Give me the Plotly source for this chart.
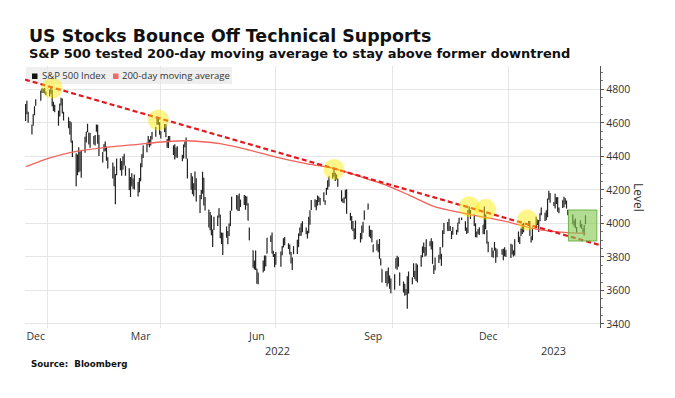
import pandas as pd
import plotly.graph_objects as go

# ---------------- data ----------------
holidays = ['2021-12-24', '2022-01-17', '2022-02-21', '2022-04-15', '2022-05-30', '2022-06-20',
            '2022-07-04', '2022-09-05', '2022-11-24', '2022-12-26', '2023-01-02', '2023-01-16',
            '2023-02-20']
first_day = '2021-12-13'
last_day = '2023-03-03'

opens = [
    4710, 4642, 4637, 4719, 4653, 4587, 4594, 4650, 4703, 4733, 4795, 4789, 4795, 4776,
    4779, 4804, 4788, 4693, 4698, 4655, 4670, 4728, 4734, 4637, 4632, 4588, 4547, 4471, 4357, 4366, 4408, 4381, 4337, 4431,
    4520, 4568, 4535, 4483, 4505, 4480, 4548, 4554, 4507, 4413, 4430, 4455, 4456, 4385, 4332, 4325, 4155, 4299, 4354,
    4363, 4322, 4401, 4343, 4327, 4202, 4224, 4252, 4279, 4202, 4188, 4288, 4345, 4407, 4463, 4469, 4494, 4469, 4523, 4541, 4603, 4625, 4599,
    4540, 4548, 4573, 4495, 4474, 4495, 4462, 4438, 4396, 4449, 4385, 4390, 4472, 4490, 4385, 4255, 4279, 4187, 4223, 4253,
    4130, 4159, 4181, 4271, 4129, 4081, 4035, 3990, 3903, 3964, 4013, 4052, 4052, 3900, 3928, 3920, 3943, 3930, 3985, 4077, 4151,
    4149, 4096, 4138, 4134, 4096, 4148, 4101, 3974, 3838, 3763, 3764, 3729, 3665, 3709, 3734, 3775, 3821, 3913, 3913, 3826, 3785,
    3781, 3792, 3831, 3858, 3889, 3880, 3854, 3779, 3764, 3818, 3883, 3860, 3936, 3955, 4000, 3966, 3953, 3951, 4026, 4088,
    4113, 4105, 4108, 4155, 4116, 4155, 4133, 4171, 4227, 4225, 4270, 4291, 4280, 4274, 4267, 4195, 4134, 4127, 4154, 4198, 4034, 4041, 4000,
    3937, 3994, 3930, 3909, 3959, 4022, 4083, 3986, 3940, 3932, 3831, 3849, 3875, 3871, 3782, 3727, 3682, 3687, 3651, 3687, 3633,
    3610, 3732, 3754, 3772, 3706, 3647, 3595, 3591, 3520, 3690, 3638, 3746, 3696, 3689, 3657, 3762, 3799, 3825, 3834, 3808, 3881,
    3901, 3853, 3733, 3767, 3780, 3817, 3811, 3859, 3963, 3978, 4006, 3976, 3920, 3966, 3956, 3956, 4001, 4023, 4005, 3964, 3957,
    4087, 4040, 4052, 3996, 3934, 3947, 3954, 3939, 4069, 4016, 3958, 3891, 3853, 3810, 3840, 3853, 3815, 3843, 3829, 3805, 3830,
    3853, 3840, 3839, 3823, 3910, 3889, 3932, 3977, 3960, 3999, 4003, 3911, 3909, 3979, 4001, 3982, 4037, 4054, 4050, 4020,
    4070, 4158, 4137, 4119, 4105, 4153, 4145, 4072, 4096, 4127, 4120, 4115, 4078, 4052, 4001, 4018, 3973, 3992, 3977,
    3963, 3938, 3999,
]
highs = [
    4710, 4660, 4712, 4731, 4666, 4589, 4651, 4698, 4740, 4791, 4807, 4804, 4808, 4787,
    4797, 4819, 4798, 4725, 4708, 4674, 4714, 4749, 4745, 4666, 4632, 4611, 4603, 4495, 4418, 4411, 4454, 4429, 4432, 4517,
    4546, 4595, 4542, 4540, 4522, 4528, 4590, 4589, 4527, 4426, 4472, 4489, 4457, 4394, 4363, 4340, 4295, 4385, 4388,
    4372, 4401, 4416, 4343, 4327, 4277, 4299, 4268, 4292, 4247, 4271, 4358, 4412, 4465, 4481, 4522, 4500, 4521, 4546, 4575, 4637, 4627, 4604,
    4549, 4593, 4593, 4504, 4521, 4521, 4464, 4472, 4453, 4460, 4410, 4471, 4489, 4513, 4386, 4299, 4279, 4240, 4309, 4270,
    4169, 4200, 4308, 4271, 4158, 4082, 4068, 4049, 3964, 4039, 4047, 4090, 4052, 3946, 3944, 3982, 3955, 3999, 4075, 4158, 4169,
    4166, 4177, 4143, 4169, 4165, 4160, 4120, 3974, 3838, 3778, 3838, 3729, 3707, 3779, 3809, 3808, 3913, 3928, 3946, 3837, 3818,
    3829, 3832, 3865, 3911, 3919, 3880, 3874, 3829, 3796, 3863, 3902, 3940, 3975, 4000, 4013, 3976, 3956, 4040, 4078, 4140,
    4144, 4140, 4167, 4161, 4151, 4186, 4138, 4211, 4258, 4280, 4302, 4326, 4302, 4292, 4267, 4196, 4149, 4156, 4200, 4203, 4063, 4044, 4015,
    3970, 4018, 3942, 3987, 4010, 4077, 4119, 3986, 3962, 3960, 3873, 3900, 3877, 3907, 3790, 3727, 3715, 3717, 3737, 3687, 3671,
    3697, 3792, 3807, 3798, 3706, 3653, 3640, 3608, 3685, 3713, 3678, 3762, 3718, 3762, 3753, 3810, 3862, 3886, 3859, 3905, 3893,
    3911, 3894, 3750, 3796, 3813, 3859, 3819, 3959, 4002, 4009, 4028, 3984, 3954, 3979, 3962, 4004, 4034, 4035, 4013, 3976, 4080,
    4101, 4080, 4053, 4001, 3951, 3966, 3977, 3991, 4101, 4053, 3959, 3891, 3854, 3839, 3889, 3853, 3845, 3846, 3849, 3858, 3840,
    3879, 3874, 3839, 3906, 3951, 3920, 3970, 3997, 4003, 4015, 4014, 3923, 3973, 4039, 4024, 4020, 4061, 4095, 4063, 4077,
    4148, 4195, 4182, 4127, 4177, 4156, 4157, 4095, 4138, 4159, 4148, 4136, 4082, 4052, 4017, 4029, 3979, 4019, 3997,
    3971, 3990, 4048,
]
lows = [
    4667, 4606, 4611, 4651, 4600, 4531, 4583, 4645, 4703, 4733, 4780, 4778, 4775, 4766,
    4759, 4774, 4699, 4671, 4663, 4582, 4638, 4703, 4655, 4614, 4568, 4530, 4482, 4396, 4222, 4287, 4305, 4309, 4273, 4421,
    4483, 4544, 4470, 4451, 4471, 4465, 4548, 4475, 4402, 4364, 4429, 4430, 4374, 4328, 4268, 4222, 4114, 4287, 4317,
    4285, 4322, 4345, 4284, 4199, 4157, 4224, 4206, 4202, 4161, 4187, 4252, 4335, 4390, 4425, 4469, 4455, 4465, 4501, 4517, 4589, 4588, 4530,
    4507, 4546, 4514, 4452, 4450, 4487, 4408, 4381, 4393, 4392, 4371, 4388, 4455, 4385, 4268, 4201, 4175, 4162, 4200, 4131,
    4062, 4144, 4177, 4107, 4077, 3976, 3959, 3929, 3859, 3961, 3984, 4033, 3912, 3877, 3811, 3914, 3875, 3925, 3985, 4077, 4083,
    4074, 4074, 4098, 4110, 4081, 4107, 4017, 3900, 3735, 3725, 3722, 3640, 3637, 3709, 3717, 3743, 3821, 3889, 3821, 3800, 3739,
    3753, 3742, 3810, 3858, 3869, 3847, 3814, 3761, 3722, 3817, 3818, 3860, 3925, 3926, 3947, 3936, 3910, 3941, 3992, 4080,
    4097, 4079, 4108, 4128, 4108, 4129, 4112, 4171, 4201, 4219, 4267, 4278, 4253, 4262, 4218, 4130, 4123, 4120, 4147, 4057, 4017, 3965, 3955,
    3904, 3907, 3886, 3906, 3944, 4022, 4083, 3921, 3911, 3887, 3828, 3839, 3828, 3789, 3749, 3647, 3644, 3623, 3641, 3610, 3584,
    3604, 3732, 3723, 3744, 3628, 3588, 3568, 3573, 3491, 3584, 3638, 3680, 3667, 3656, 3648, 3742, 3799, 3825, 3803, 3808, 3864,
    3844, 3759, 3698, 3721, 3764, 3786, 3747, 3859, 3937, 3956, 3954, 3955, 3907, 3933, 3933, 3947, 3998, 4020, 3956, 3937, 3943,
    4054, 4027, 3985, 3918, 3916, 3935, 3933, 3937, 3936, 3965, 3879, 3828, 3800, 3795, 3839, 3765, 3798, 3813, 3781, 3805, 3800,
    3794, 3815, 3802, 3809, 3888, 3877, 3924, 3937, 3947, 3984, 3926, 3886, 3899, 3972, 3990, 3949, 4013, 4049, 4015, 4020,
    4037, 4141, 4123, 4104, 4089, 4115, 4070, 4060, 4092, 4096, 4114, 4091, 4048, 3995, 3981, 3971, 3944, 3976, 3968,
    3939, 3928, 3995,
]
closes = [
    4669, 4635, 4709, 4668, 4621, 4568, 4649, 4697, 4725, 4791, 4786, 4793, 4778, 4766,
    4797, 4793, 4701, 4696, 4677, 4670, 4713, 4726, 4659, 4663, 4577, 4533, 4483, 4398, 4410, 4356, 4350, 4327, 4432, 4516,
    4546, 4589, 4477, 4501, 4484, 4521, 4587, 4504, 4419, 4401, 4472, 4475, 4381, 4349, 4305, 4226, 4288, 4385, 4374,
    4306, 4387, 4364, 4329, 4201, 4171, 4278, 4260, 4204, 4173, 4262, 4358, 4412, 4463, 4461, 4512, 4456, 4520, 4543, 4575, 4632, 4602, 4530,
    4546, 4583, 4525, 4481, 4500, 4488, 4413, 4397, 4447, 4392, 4391, 4463, 4459, 4394, 4272, 4297, 4176, 4184, 4288, 4132,
    4155, 4175, 4300, 4147, 4123, 3991, 4001, 3935, 3930, 4024, 4008, 4088, 3923, 3901, 3901, 3974, 3941, 3979, 4058, 4158, 4132,
    4101, 4177, 4109, 4121, 4161, 4116, 4018, 3901, 3750, 3735, 3790, 3667, 3675, 3765, 3760, 3796, 3912, 3901, 3821, 3819, 3785,
    3825, 3831, 3845, 3903, 3899, 3855, 3819, 3801, 3790, 3863, 3831, 3937, 3960, 3999, 3962, 3967, 3921, 4024, 4072, 4130,
    4119, 4091, 4155, 4152, 4145, 4140, 4122, 4210, 4207, 4280, 4297, 4305, 4275, 4284, 4228, 4138, 4128, 4141, 4199, 4058, 4031, 3986, 3955,
    3967, 3924, 3908, 3980, 4006, 4067, 4110, 3932, 3946, 3901, 3873, 3900, 3856, 3790, 3758, 3693, 3655, 3647, 3719, 3640, 3586,
    3678, 3791, 3783, 3744, 3640, 3612, 3589, 3577, 3669, 3583, 3677, 3720, 3696, 3666, 3753, 3798, 3860, 3831, 3808, 3901, 3872,
    3856, 3760, 3720, 3771, 3807, 3828, 3749, 3956, 3993, 3957, 3992, 3959, 3947, 3965, 3950, 4003, 4028, 4026, 3964, 3958, 4080,
    4076, 4072, 3999, 3941, 3934, 3963, 3934, 3991, 4020, 3996, 3896, 3852, 3818, 3822, 3879, 3822, 3845, 3829, 3783, 3849, 3840,
    3825, 3853, 3809, 3895, 3893, 3919, 3970, 3983, 3999, 3991, 3929, 3899, 3973, 4020, 4017, 4016, 4060, 4071, 4018, 4077,
    4119, 4180, 4136, 4111, 4164, 4118, 4082, 4090, 4138, 4136, 4148, 4090, 4079, 3997, 3991, 4012, 3970, 3982, 3970,
    3951, 3982, 4045,
]

ma_dates = ['2021-12-15', '2022-01-02', '2022-01-20', '2022-02-15', '2022-03-14', '2022-04-04',
            '2022-04-22', '2022-05-09', '2022-05-19', '2022-06-07', '2022-07-01', '2022-07-27',
            '2022-08-15', '2022-09-04', '2022-09-28', '2022-10-14', '2022-11-04', '2022-12-02',
            '2022-12-29', '2023-01-12', '2023-01-26', '2023-02-17', '2023-03-03']
ma_values = [4338, 4388, 4424, 4452, 4472, 4487,
             4493, 4484, 4474, 4443, 4396, 4354,
             4330, 4283, 4223, 4170, 4098, 4052,
             4014, 3986, 3961, 3945, 3940]

trend_dates = ['2021-12-14 12:00', '2023-03-14 12:00']
trend_values = [4858, 3870]

touch_dates = ['2022-01-05', '2022-03-30', '2022-08-16', '2022-12-01', '2022-12-14', '2023-01-16']
touch_values = [4808, 4617, 4322, 4100, 4084, 4020]

box_dates = ['2023-02-17 12:00', '2023-03-12']
box_values = [3895, 4080]

x_range = ['2021-12-14 12:00', '2023-03-14 12:00']
y_range = [3376, 4939]
month_tick_dates = ['2021-12-23', '2022-03-16', '2022-06-16', '2022-09-16', '2022-12-16']
month_tick_labels = ['Dec', 'Mar', 'Jun', 'Sep', 'Dec']
quarter_lines = ['2022-01-01', '2022-04-01', '2022-07-01', '2022-10-01', '2023-01-01']
year_dates = ['2022-07-02', '2023-02-06']
year_labels = ['2022', '2023']
level_ticks = [3400, 3600, 3800, 4000, 4200, 4400, 4600, 4800]

title = 'US Stocks Bounce Off Technical Supports'
subtitle = 'S&P 500 tested 200-day moving average to stay above former downtrend'
source = 'Source:  Bloomberg'
legend_names = ['S&P 500 Index', '200-day moving average']

# ---------------- dates ----------------
days = pd.bdate_range(first_day, last_day)
days = days[~days.isin(pd.to_datetime(holidays))]

# ---------------- layout geometry (page pixels) ----------------
OFF = 8                      # default page body margin in the written html
W, H = 675 - OFF, 398 - OFF  # figure size so it fits the window
L, R, T, B = 25, 600, 66, 328  # plot area in page pixels


def px_x(px):
    return (px - L) / (R - L)


def px_y(py):
    return (B - py) / (B - T)


TXT = '#333333'
BAR = '#222222'
MA_COLOR = '#f2625c'
TREND_COLOR = '#e3191f'

fig = go.Figure()

fig.add_trace(go.Ohlc(
    x=days, open=opens, high=highs, low=lows, close=closes,
    increasing=dict(line=dict(color=BAR, width=1.2)),
    decreasing=dict(line=dict(color=BAR, width=1.2)),
    tickwidth=0.4, showlegend=False, hoverinfo='skip'))

fig.add_trace(go.Scatter(
    x=ma_dates, y=ma_values, mode='lines',
    line=dict(color=MA_COLOR, width=1.3, shape='spline', smoothing=0.6),
    showlegend=False, hoverinfo='skip'))

fig.add_trace(go.Scatter(
    x=trend_dates, y=trend_values, mode='lines',
    line=dict(color=TREND_COLOR, width=2.2, dash='5px,3px'),
    showlegend=False, hoverinfo='skip'))

fig.add_trace(go.Scatter(
    x=touch_dates, y=touch_values, mode='markers',
    marker=dict(size=21, color='rgba(255,236,0,0.46)', line=dict(width=0)),
    showlegend=False, hoverinfo='skip'))

shapes = [
    dict(type='rect', xref='x', yref='y', x0=box_dates[0], x1=box_dates[1],
         y0=box_values[0], y1=box_values[1], layer='above',
         fillcolor='rgba(132,200,80,0.62)', line=dict(color='rgba(100,175,55,0.9)', width=1)),
    # legend background and swatches
    dict(type='rect', xref='paper', yref='paper', x0=px_x(26), x1=px_x(232),
         y0=px_y(84), y1=px_y(67), layer='below', fillcolor='#efefef', line=dict(width=0)),
    dict(type='rect', xref='paper', yref='paper', x0=px_x(32), x1=px_x(37.5),
         y0=px_y(79), y1=px_y(73.5), layer='above', fillcolor='#111111', line=dict(width=0)),
    dict(type='rect', xref='paper', yref='paper', x0=px_x(113), x1=px_x(118.5),
         y0=px_y(79), y1=px_y(73.5), layer='above', fillcolor='#f46a68', line=dict(width=0)),
]

annotations = [
    dict(text='<b>' + title + '</b>', xref='paper', yref='paper', x=px_x(27), y=px_y(36),
         xanchor='left', yanchor='middle', showarrow=False,
         font=dict(family='DejaVu Sans', size=17.4, color='#111111')),
    dict(text='<b>' + subtitle.replace('&', '&amp;') + '</b>', xref='paper', yref='paper', x=px_x(27), y=px_y(53.5),
         xanchor='left', yanchor='middle', showarrow=False,
         font=dict(family='DejaVu Sans', size=13.0, color='#111111')),
    dict(text='<b>' + source + '</b>', xref='paper', yref='paper', x=px_x(29), y=px_y(364),
         xanchor='left', yanchor='middle', showarrow=False,
         font=dict(family='DejaVu Sans', size=8.7, color='#111111')),
    dict(text='Level', xref='paper', yref='paper', x=px_x(639), y=px_y(197),
         xanchor='center', yanchor='middle', textangle=90, showarrow=False,
         font=dict(family='Open Sans', size=12, color=TXT)),
    dict(text=legend_names[0].replace('&', '&amp;'), xref='paper', yref='paper', x=px_x(40), y=px_y(76),
         xanchor='left', yanchor='middle', showarrow=False,
         font=dict(family='Open Sans', size=9.5, color=TXT)),
    dict(text=legend_names[1], xref='paper', yref='paper', x=px_x(120), y=px_y(76),
         xanchor='left', yanchor='middle', showarrow=False,
         font=dict(family='Open Sans', size=9.5, color=TXT)),
]
for d, lab in zip(year_dates, year_labels):
    annotations.append(dict(text=lab, xref='x', yref='paper', x=d, y=px_y(350),
                            xanchor='center', yanchor='middle', showarrow=False,
                            font=dict(family='Open Sans', size=11, color=TXT)))

fig.update_layout(
    width=W, height=H,
    margin=dict(l=L - OFF, r=(W + OFF) - R, t=T - OFF, b=(H + OFF) - B, pad=0),
    paper_bgcolor='white', plot_bgcolor='white',
    showlegend=False,
    shapes=shapes, annotations=annotations,
    xaxis=dict(
        type='date', range=x_range, rangeslider=dict(visible=False),
        tickmode='array', tickvals=month_tick_dates, ticktext=month_tick_labels,
        ticks='', showgrid=False, showline=False, zeroline=False,
        tickfont=dict(family='Open Sans', size=10.5, color=TXT),
        minor=dict(tickmode='array', tickvals=quarter_lines, showgrid=True,
                   gridcolor='#e6e6e6', gridwidth=1, ticks=''),
    ),
    yaxis=dict(
        side='right', range=y_range, tickmode='array', tickvals=level_ticks,
        showgrid=True, gridcolor='#e6e6e6', gridwidth=1, zeroline=False,
        showline=True, linecolor='#555555', linewidth=1.3,
        ticks='outside', ticklen=3, tickcolor='#555555', tickwidth=1,
        tickfont=dict(family='Open Sans', size=10.5, color=TXT),
        minor=dict(dtick=50, tick0=3400, ticks='outside', ticklen=2, tickcolor='#777777', showgrid=False),
    ),
)

fig.write_html('out.html')
